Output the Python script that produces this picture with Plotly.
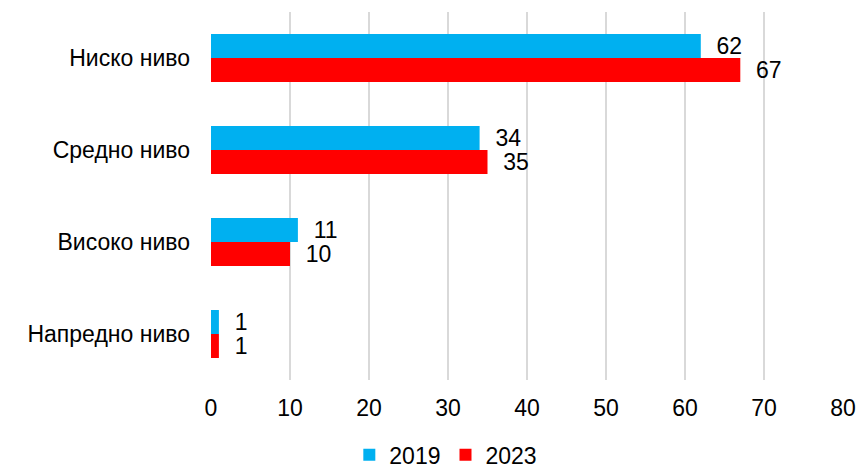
import plotly.graph_objects as go

categories = ["Ниско ниво", "Средно ниво", "Високо ниво", "Напредно ниво"]
values_2019 = [62, 34, 11, 1]
values_2023 = [67, 35, 10, 1]
series_names = ["2019", "2023"]
x_ticks = [0, 10, 20, 30, 40, 50, 60, 70, 80]

FONT = "Liberation Sans, Arial, sans-serif"
FS = 23
colors = ["#00B0F0", "#FF0000"]

fig = go.Figure()
for name, vals, col in zip(series_names, [values_2019, values_2023], colors):
    fig.add_trace(go.Bar(
        y=categories, x=vals, name=name, orientation="h",
        marker=dict(color=col, line=dict(width=0)),
        text=["\u00a0\u00a0" + str(v) for v in vals],
        textposition="outside", cliponaxis=False, constraintext="none",
        textfont=dict(family=FONT, size=FS, color="#000000"),
    ))

fig.update_layout(
    width=859, height=468,
    margin=dict(l=211, r=16, t=12, b=88, autoexpand=False),
    paper_bgcolor="white", plot_bgcolor="white",
    barmode="group", bargap=0.478, bargroupgap=0,
    font=dict(family=FONT, size=FS, color="#000000"),
    showlegend=True,
    legend=dict(orientation="h", xref="container", x=0.519, xanchor="center",
                yref="container", y=0.028, yanchor="middle",
                font=dict(family=FONT, size=FS), itemwidth=30,
                traceorder="normal"),
    xaxis=dict(range=[0, 80], tickvals=x_ticks, showgrid=True,
               gridcolor="#D9D9D9", gridwidth=1.5, zeroline=False,
               showline=False, ticks="", ticklabelstandoff=12,
               automargin=False, tickfont=dict(family=FONT, size=FS)),
    yaxis=dict(autorange="reversed", showgrid=False, zeroline=False,
               showline=False, ticks="", ticklabelstandoff=20,
               automargin=False, tickfont=dict(family=FONT, size=FS)),
)

# remove the default 8px body margin so the 859x468 figure fills the window exactly
fig.write_html("out.html",
               config={"displayModeBar": False},
               post_script="document.body.style.margin='0';document.body.style.overflow='hidden';")
